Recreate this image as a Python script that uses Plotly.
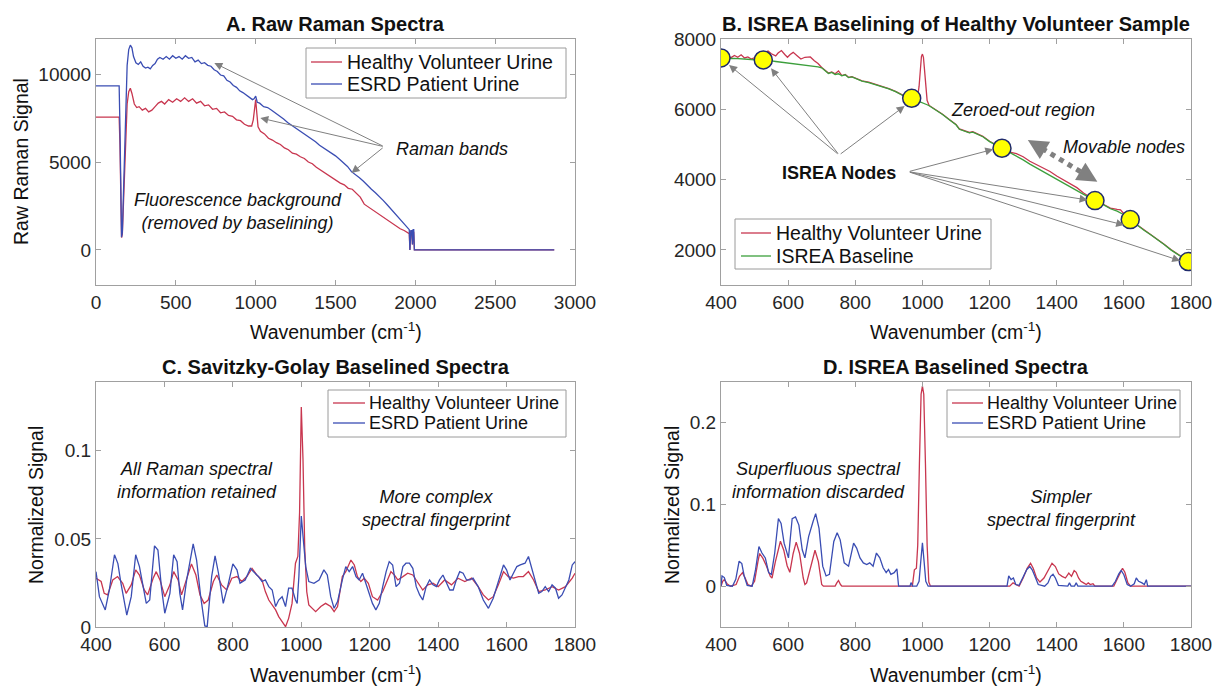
import plotly.graph_objects as go

W, H = 1223, 687
FONT = "Liberation Sans, Arial, Helvetica, sans-serif"
RED = "#C8364F"
BLUE = "#3A4DB3"
GREEN = "#3C9F3C"
GRAY = "#808080"
AXC = "#a0a0a0"
TXT = "#262626"

# ---------------- Panel A : raw spectra ----------------
A_wn_healthy = [0, 145, 150, 155, 160, 165, 175, 185, 195, 205,
                215, 225, 240, 255, 270, 290, 310, 330, 350, 370,
                390, 410, 430, 455, 480, 505, 530, 555, 580, 605,
                630, 655, 680, 705, 730, 755, 780, 805, 830, 855,
                880, 905, 930, 955, 975, 985, 993, 1000, 1007, 1015,
                1030, 1055, 1080, 1105, 1130, 1155, 1180, 1205, 1230, 1255,
                1280, 1305, 1330, 1355, 1380, 1405, 1430, 1455, 1480, 1505,
                1530, 1555, 1580, 1605, 1630, 1655, 1680, 1705, 1730, 1755,
                1780, 1805, 1830, 1855, 1880, 1905, 1930, 1955, 1962, 1966,
                1972, 1978, 1982, 1986, 1990, 1994, 2870]
A_healthy = [7550, 7550, 6000, 2500, 700, 900, 3500, 6500, 8300, 9000,
             9200, 8900, 8300, 8100, 8150, 7950, 8050, 7850, 7950, 8150,
             8350, 8450, 8300, 8550, 8400, 8600, 8450, 8650, 8450, 8600,
             8350, 8450, 8200, 8250, 8000, 8050, 7800, 7850, 7650, 7600,
             7400, 7350, 7150, 7050, 7050, 7400, 8200, 8550, 7800, 7000,
             6750, 6600, 6350, 6250, 6100, 6000, 5800, 5700, 5500, 5450,
             5300, 5200, 5000, 4900, 4700, 4550, 4400, 4300, 4100, 3950,
             3800, 3700, 3500, 3450, 3250, 3000, 2600, 2450, 2250, 2150,
             1950, 1850, 1650, 1500, 1350, 1200, 1100, 950, 920, 0,
             1050, 1050, 300, 1000, 1000, 0, 0]

A_wn_esrd = [0, 145, 150, 155, 160, 165, 175, 185, 195, 205,
             215, 225, 235, 250, 265, 280, 295, 310, 325, 340,
             355, 370, 385, 400, 420, 440, 460, 480, 500, 520,
             540, 560, 580, 600, 620, 640, 660, 680, 700, 720,
             740, 760, 780, 800, 820, 840, 860, 880, 900, 920,
             940, 960, 980, 990, 1000, 1010, 1025, 1050, 1075, 1100,
             1125, 1150, 1175, 1200, 1225, 1250, 1275, 1300, 1325, 1350,
             1375, 1400, 1425, 1450, 1475, 1500, 1525, 1550, 1575, 1600,
             1625, 1650, 1675, 1700, 1725, 1750, 1775, 1800, 1825, 1850,
             1875, 1900, 1925, 1950, 1962, 1966, 1972, 1978, 1982, 1986,
             1990, 1994, 2870]
A_esrd = [9330, 9330, 7000, 3000, 720, 1000, 4000, 8000, 10500, 11400,
          11650, 11500, 11000, 10650, 10550, 10700, 10450, 10350, 10400, 10300,
          10500, 10600, 10850, 10950, 10850, 11000, 10850, 11050, 10900, 11000,
          10850, 11050, 10900, 10950, 10700, 10800, 10600, 10650, 10500, 10450,
          10250, 10150, 9950, 9900, 9650, 9550, 9350, 9250, 9050, 8950,
          8800, 8700, 8550, 8600, 8750, 8400, 8350, 8150, 8100, 7950,
          7800, 7650, 7450, 7250, 7100, 6950, 6800, 6600, 6450, 6300,
          6150, 5950, 5800, 5650, 5500, 5350, 5150, 4950, 4750, 4450,
          4300, 4100, 3900, 3650, 3450, 3250, 3050, 2800, 2550, 2300,
          2050, 1800, 1550, 1300, 1150, 0, 1100, 1100, 300, 1150,
          1150, 0, 0]
A_xticks = [0, 500, 1000, 1500, 2000, 2500, 3000]
A_yticks = [0, 5000, 10000]

# ---------------- Panel B : ISREA baseline ----------------
B_wn = [400, 410, 420, 430, 440, 450, 460, 470, 480, 490,
        500, 510, 526, 540, 550, 563, 570, 580, 590, 598,
        606, 615, 625, 638, 650, 666, 678, 689, 700, 710,
        720, 730, 740, 750, 760, 770, 780, 790, 800, 820,
        840, 860, 880, 900, 920, 940, 955, 968, 980, 986,
        990, 994, 997, 1000, 1003, 1006, 1010, 1014, 1020, 1040,
        1060, 1080, 1100, 1110, 1120, 1130, 1140, 1150, 1160, 1180,
        1200, 1220, 1237, 1260, 1280, 1300, 1320, 1340, 1360, 1380,
        1400, 1420, 1440, 1460, 1480, 1500, 1514, 1540, 1560, 1580,
        1590, 1600, 1619, 1640, 1660, 1680, 1700, 1720, 1740, 1760,
        1780, 1792]
B_baseline = [7460, 7450, 7440, 7445, 7450, 7440, 7430, 7425, 7420, 7415,
              7410, 7405, 7400, 7385, 7375, 7360, 7352, 7340, 7328, 7318,
              7308, 7296, 7284, 7268, 7252, 7232, 7218, 7204, 7180, 7100,
              7020, 7050, 6990, 7010, 6950, 6980, 6900, 6920, 6880, 6800,
              6760, 6700, 6660, 6580, 6500, 6400, 6300, 6310, 6260, 6240,
              6225, 6210, 6200, 6190, 6180, 6170, 6150, 6130, 6100, 5980,
              5850, 5700, 5560, 5430, 5400, 5380, 5330, 5350, 5300, 5220,
              5080, 4980, 4890, 4760, 4660, 4560, 4440, 4330, 4220, 4110,
              4000, 3900, 3790, 3680, 3580, 3480, 3400, 3280, 3170, 3100,
              3060, 3000, 2860, 2700, 2560, 2430, 2300, 2150, 2000, 1870,
              1750, 1670]
B_healthy = [7460, 7470, 7520, 7470, 7530, 7480, 7550, 7460, 7490, 7430,
             7470, 7420, 7410, 7660, 7580, 7520, 7600, 7670, 7560, 7480,
             7560, 7620, 7540, 7430, 7480, 7490, 7380, 7300, 7190, 7110,
             7030, 7060, 7010, 7090, 6960, 6990, 6910, 6930, 6890, 6810,
             6770, 6710, 6670, 6590, 6510, 6410, 6310, 6320, 6290, 6380,
             6650, 7200, 7500, 7570, 7480, 7150, 6600, 6250, 6110, 5990,
             5860, 5710, 5570, 5440, 5410, 5390, 5340, 5360, 5310, 5230,
             5090, 4990, 4900, 4780, 4740, 4650, 4520, 4430, 4330, 4230,
             4100, 3990, 3860, 3770, 3620, 3490, 3410, 3290, 3190, 3150,
             3140, 3030, 2870, 2710, 2570, 2440, 2310, 2160, 2010, 1880,
             1760, 1680]
B_node_wn = [400, 526, 968, 1237, 1514, 1619, 1792]
B_node_val = [7460, 7403, 6313, 4891, 3403, 2862, 1668]
B_yticks = [2000, 4000, 6000, 8000]
WN_ticks = [400, 600, 800, 1000, 1200, 1400, 1600, 1800]

# ---------------- Panel C : Savitzky-Golay ----------------
C_wn_healthy = [400, 415, 424, 434, 449, 463, 478, 488, 503, 516,
                527, 541, 551, 567, 576, 587, 601, 616, 627, 640,
                650, 665, 679, 692, 704, 716, 728, 743, 753, 767,
                782, 797, 812, 826, 841, 856, 870, 885, 895, 905,
                915, 925, 934, 944, 954, 963, 973, 983, 990, 995,
                1000, 1005, 1010, 1016, 1022, 1042, 1057, 1071, 1086, 1096,
                1106, 1120, 1130, 1145, 1155, 1164, 1174, 1184, 1196, 1208,
                1223, 1238, 1253, 1262, 1272, 1282, 1297, 1311, 1326, 1341,
                1355, 1370, 1385, 1400, 1419, 1439, 1458, 1478, 1498, 1517,
                1532, 1547, 1561, 1576, 1591, 1605, 1620, 1635, 1649, 1664,
                1679, 1694, 1713, 1733, 1752, 1772, 1792, 1800]
C_healthy = [.0277, .0258, .0191, .0182, .0267, .0286, .0248, .0191, .0239, .0324,
             .0295, .021, .0182, .0277, .0314, .0267, .0172, .0239, .0314, .0267,
             .0182, .0267, .0358, .0295, .0182, .0134, .0153, .0258, .0295, .0239,
             .021, .0277, .0286, .0258, .0286, .0333, .0295, .0267, .0201, .0153,
             .0125, .0097, .0059, .003, .0002, .0049, .0134, .0362, .040, .065,
             .1248, .095, .045, .020, .0125, .0087, .0116, .0134, .0116, .0087,
             .0116, .0286, .0314, .038, .0352, .0286, .0258, .0277, .0248, .0172,
             .0153, .0201, .0267, .0314, .0295, .0267, .0286, .0305, .0295, .0248,
             .021, .0239, .0248, .0229, .0267, .0239, .0277, .0258, .0277, .0229,
             .0182, .0153, .0172, .0239, .0314, .0286, .0277, .0286, .0286, .0314,
             .0267, .0201, .021, .0229, .021, .0229, .0277, .0305]

C_wn_esrd = [400, 410, 427, 439, 454, 464, 473, 490, 503, 516,
             527, 537, 547, 557, 571, 581, 591, 601, 616, 627,
             637, 645, 653, 665, 684, 694, 706, 718, 725, 738,
             748, 758, 772, 787, 800, 812, 821, 836, 851, 860,
             875, 885, 895, 905, 915, 925, 934, 944, 954, 963,
             973, 983, 988, 993, 1000, 1006, 1013, 1022, 1037, 1052,
             1066, 1076, 1086, 1096, 1106, 1120, 1130, 1140, 1150, 1160,
             1169, 1179, 1189, 1199, 1208, 1218, 1228, 1238, 1248, 1257,
             1267, 1277, 1287, 1297, 1306, 1316, 1326, 1336, 1346, 1355,
             1365, 1375, 1385, 1395, 1404, 1414, 1424, 1434, 1444, 1453,
             1463, 1473, 1483, 1493, 1502, 1517, 1532, 1547, 1561, 1576,
             1591, 1600, 1610, 1620, 1630, 1640, 1654, 1664, 1674, 1684,
             1694, 1703, 1713, 1723, 1733, 1743, 1752, 1762, 1772, 1782,
             1792, 1800]
C_esrd = [.0314, .0172, .0097, .021, .041, .036, .0248, .0068, .0172, .041,
          .0343, .0229, .0134, .0153, .046, .0437, .0229, .0078, .0191, .041,
          .0371, .0191, .0097, .0267, .0472, .038, .0172, .0006, .0002, .0286,
          .0403, .0305, .0134, .0248, .0358, .0324, .0248, .0267, .0333, .0314,
          .0286, .0258, .0267, .0229, .021, .0116, .0153, .0172, .0116, .022,
          .022, .0153, .0134, .0286, .063, .0494, .0343, .0258, .0248, .0267,
          .0324, .0295, .0172, .0106, .0144, .0267, .0343, .0314, .0343, .0286,
          .0267, .0305, .0248, .0191, .0134, .0097, .0134, .0229, .0314, .0371,
          .0352, .0229, .0248, .0343, .0362, .0362, .0333, .0229, .0182, .0153,
          .0229, .0267, .0239, .0229, .0267, .0295, .0248, .021, .021, .0267,
          .0314, .0305, .0267, .0267, .0277, .0229, .0153, .0106, .0163, .0258,
          .0352, .0324, .0267, .0305, .0343, .0352, .0362, .040, .0333, .0267,
          .0191, .0201, .0229, .0201, .0239, .022, .0163, .0182, .022, .0267,
          .0352, .0371]
C_yticks = [0, 0.05, 0.1]

# ---------------- Panel D : ISREA baselined ----------------
D_wn_healthy = [400, 405, 410, 418, 428, 445, 455, 464, 472, 480,
                490, 500, 510, 515, 525, 535, 547, 552, 562, 577,
                587, 597, 605, 615, 624, 634, 645, 650, 655, 665,
                680, 690, 700, 705, 740, 745, 750, 756, 760, 970,
                976, 982, 986, 991, 996, 1000, 1004, 1009, 1014, 1019,
                1024, 1260, 1270, 1278, 1288, 1300, 1312, 1322, 1330, 1340,
                1350, 1362, 1375, 1386, 1396, 1406, 1416, 1426, 1436, 1444,
                1452, 1458, 1465, 1472, 1480, 1488, 1494, 1500, 1508, 1514,
                1570, 1580, 1590, 1596, 1603, 1612, 1620, 1800]
D_healthy = [0, .006, .008, .003, 0, .002, .012, .0165, .010, .002,
             0, .006, .030, .040, .034, .025, .012, .010, .030, .055,
             .044, .025, .017, .040, .054, .040, .010, .002, .004, .020,
             .044, .030, .002, 0, 0, .004, .007, .002, 0, 0,
             .020, .022, .050, .150, .235, .245, .235, .150, .050, .005,
             0, 0, .004, .002, 0, .010, .022, .028, .022, .010,
             .005, .010, .020, .028, .024, .015, .012, .010, .016, .012,
             .019, .017, .010, .006, .004, .002, .004, .002, .003, 0,
             0, .008, .018, .022, .017, .004, 0, 0]

D_wn_esrd = [400, 403, 410, 417, 434, 444, 454, 462, 469, 478,
             493, 503, 513, 522, 532, 542, 550, 560, 571, 579,
             588, 601, 612, 622, 632, 642, 650, 661, 674, 682,
             692, 703, 713, 723, 736, 746, 755, 767, 780, 795,
             804, 814, 824, 834, 843, 853, 863, 873, 883, 892,
             899, 906, 916, 924, 929, 963, 966, 971, 983, 990,
             995, 1000, 1005, 1010, 1017, 1252, 1257, 1264, 1271, 1278,
             1288, 1301, 1311, 1320, 1327, 1335, 1345, 1364, 1374, 1382,
             1389, 1396, 1405, 1433, 1438, 1443, 1453, 1458, 1463, 1565,
             1575, 1585, 1592, 1600, 1610, 1620, 1631, 1637, 1644, 1654,
             1661, 1667, 1671, 1800]
D_esrd = [0, .0125, .0105, .001, 0, .0084, .0306, .0277, .0125, .001,
          0, .0205, .0486, .0406, .0346, .0165, .0145, .0406, .0828, .0768,
          .0527, .0346, .0828, .0848, .0748, .0446, .0346, .0607, .0788, .0888,
          .0708, .0245, .0125, .0145, .0547, .0655, .0567, .0285, .0245, .0527,
          .0466, .0346, .0285, .0265, .0285, .0245, .0406, .0346, .0225, .0165,
          .0205, .0145, .0165, .0213, 0, 0, .0044, 0, 0, .006,
          .030, .053, .030, .006, 0, 0, .0125, .008, .010, .002,
          .001, .012, .0205, .024, .020, .012, .002, 0, .004, .012,
          .0145, .010, .001, 0, .004, 0, 0, .004, 0, 0,
          .006, .015, .0193, .014, .002, 0, .003, .010, .006, .004,
          .002, .008, 0, 0]
D_yticks = [0, 0.1, 0.2]

LEG_H = "Healthy Volunteer Urine"
LEG_E = "ESRD Patient Urine"
LEG_B = "ISREA Baseline"

fig = go.Figure()
lw = 1.3

def line(x, y, color, name, xa, ya):
    fig.add_trace(go.Scatter(x=x, y=y, mode="lines", name=name,
                             line=dict(color=color, width=lw),
                             xaxis=xa, yaxis=ya, showlegend=False,
                             hoverinfo="skip"))

line(A_wn_healthy, A_healthy, RED, LEG_H, "x", "y")
line(A_wn_esrd, A_esrd, BLUE, LEG_E, "x", "y")
line(B_wn, B_healthy, RED, LEG_H, "x2", "y2")
line(B_wn, B_baseline, GREEN, LEG_B, "x2", "y2")
fig.add_trace(go.Scatter(x=B_node_wn, y=B_node_val, mode="markers", showlegend=False,
                         marker=dict(size=18, color="#FFFF00", line=dict(color="#1F2A6B", width=1.5)),
                         xaxis="x2", yaxis="y2", hoverinfo="skip"))
line(C_wn_healthy, C_healthy, RED, LEG_H, "x3", "y3")
line(C_wn_esrd, C_esrd, BLUE, LEG_E, "x3", "y3")
line(D_wn_healthy, D_healthy, RED, LEG_H, "x4", "y4")
line(D_wn_esrd, D_esrd, BLUE, LEG_E, "x4", "y4")

def px(x):
    return x / W

def py(y):
    return 1 - y / H

L = (96, 575)
R = (721, 1191)
T = (39, 285)
B = (382, 627)

def axis(dom_px, rng, tickvals, anchor, vertical=False):
    if vertical:
        dom = [py(dom_px[1]), py(dom_px[0])]
    else:
        dom = [px(dom_px[0]), px(dom_px[1])]
    return dict(domain=dom, range=rng, anchor=anchor, tickvals=tickvals,
                ticktext=[f"{v:g}" for v in tickvals],
                showline=True, linecolor=AXC, linewidth=1, mirror="ticks",
                ticks="inside", ticklen=5, tickcolor=AXC, showgrid=False,
                zeroline=False, automargin=False,
                tickfont=dict(size=19, color=TXT, family=FONT))

layout = dict(
    template="none",
    width=W, height=H, margin=dict(l=0, r=0, t=0, b=0, pad=0, autoexpand=False),
    paper_bgcolor="white", plot_bgcolor="white", showlegend=False,
    font=dict(family=FONT, color=TXT),
    xaxis=axis(L, [0, 3000], A_xticks, "y"),
    yaxis=axis(T, [-2000, 12000], A_yticks, "x", True),
    xaxis2=axis(R, [400, 1800], WN_ticks, "y2"),
    yaxis2=axis(T, [1000, 8000], B_yticks, "x2", True),
    xaxis3=axis(L, [400, 1800], WN_ticks, "y3"),
    yaxis3=axis(B, [0, 0.139], C_yticks, "x3", True),
    xaxis4=axis(R, [400, 1800], WN_ticks, "y4"),
    yaxis4=axis(B, [-0.05, 0.25], D_yticks, "x4", True),
)
fig.update_layout(**layout)

ann = []

def ptext(text, x, y, size=19.5, bold=False, angle=0, anchor="center"):
    t = f"<b>{text}</b>" if bold else text
    ann.append(dict(text=t, x=px(x), y=py(y), xref="paper", yref="paper",
                    showarrow=False, textangle=angle, xanchor=anchor, yanchor="middle",
                    font=dict(size=size, family=FONT, color="#111")))

# manual legends (box, line samples, labels)
def legend_box(x0, x1, y0, y1, lx0, lx1, tx, rows, entries, size):
    fig.add_shape(type="rect", xref="paper", yref="paper",
                  x0=px(x0), x1=px(x1), y0=py(y1), y1=py(y0),
                  line=dict(color="#9a9a9a", width=1), fillcolor="white", layer="above")
    for (name, color), ry in zip(entries, rows):
        fig.add_shape(type="line", xref="paper", yref="paper",
                      x0=px(lx0), x1=px(lx1), y0=py(ry), y1=py(ry),
                      line=dict(color=color, width=lw), layer="above")
        ptext(name, tx, ry, size, anchor="left")

legend_box(306, 566, 48, 98, 311, 342, 345, [62, 84], [(LEG_H, RED), (LEG_E, BLUE)], 19.5)
legend_box(735, 991, 219, 269, 741, 771, 774, [233, 256], [(LEG_H, RED), (LEG_B, GREEN)], 19.5)
legend_box(328, 566, 390, 437, 333, 365, 367, [403, 423], [(LEG_H, RED), (LEG_E, BLUE)], 18)
legend_box(947, 1180, 390, 437, 952, 983, 985, [403, 423], [(LEG_H, RED), (LEG_E, BLUE)], 18)

# titles
ptext("A. Raw Raman Spectra", (L[0] + L[1]) / 2, 24, 20, True)
ptext("B. ISREA Baselining of Healthy Volunteer Sample", (R[0] + R[1]) / 2, 24, 20, True)
ptext("C. Savitzky-Golay Baselined Spectra", (L[0] + L[1]) / 2, 367, 20, True)
ptext("D. ISREA Baselined Spectra", (R[0] + R[1]) / 2, 367, 20, True)
# axis titles
wn_t = "Wavenumber (cm<sup>-1</sup>)"
ptext(wn_t, (L[0] + L[1]) / 2, 331, 19.5)
ptext(wn_t, (R[0] + R[1]) / 2, 331, 19.5)
ptext(wn_t, (L[0] + L[1]) / 2, 674, 19.5)
ptext(wn_t, (R[0] + R[1]) / 2, 674, 19.5)
ptext("Raw Raman Signal", 21, 162, 19.5, angle=-90)
ptext("Normalized Signal", 36, 505, 19.5, angle=-90)
ptext("Normalized Signal", 672, 505, 19.5, angle=-90)

def dtext(text, x, y, xr, yr, italic=True, bold=False, size=18):
    t = text
    if bold:
        t = f"<b>{t}</b>"
    if italic:
        t = f"<i>{t}</i>"
    ann.append(dict(text=t, x=x, y=y, xref=xr, yref=yr, showarrow=False,
                    xanchor="center", yanchor="middle",
                    font=dict(size=size, family=FONT, color="#111")))

def arrow(hx, hy, tx, ty, xr, yr, width=1, size=1.6, color=GRAY):
    ann.append(dict(text="", x=hx, y=hy, ax=tx, ay=ty, xref=xr, yref=yr,
                    axref=xr, ayref=yr, showarrow=True, arrowhead=2,
                    arrowsize=size, arrowwidth=width, arrowcolor=color, standoff=0))

# Panel A annotations
dtext("Raman bands", 2228, 5740, "x", "y")
dtext("Fluorescence background<br>(removed by baselining)", 888, 2171, "x", "y")
for hx, hy in [(741, 10634), (1029, 7504), (1600, 4374)]:
    arrow(hx, hy, 1805, 5871, "x", "y")

# Panel B annotations
dtext("ISREA Nodes", 752, 4179, "x2", "y2", italic=False, bold=True)
dtext("Zeroed-out region", 1299, 5980, "x2", "y2")
dtext("Movable nodes", 1601, 4935, "x2", "y2")
for hx, hy in [(424, 7260), (549, 7166), (947, 6093)]:
    arrow(hx, hy, 752, 4699, "x2", "y2")
for hx, hy in [(1211, 4861), (1492, 3419), (1601, 2707), (1768, 1691)]:
    arrow(hx, hy, 958, 4224, "x2", "y2")
fig.add_shape(type="line", x0=1331, y0=5031, x1=1504, y1=4034, xref="x2", yref="y2",
              line=dict(color=GRAY, width=5, dash="dot"))
arrow(1521, 3939, 1500, 4060, "x2", "y2", width=4, size=1.0)
arrow(1314, 5126, 1335, 5005, "x2", "y2", width=4, size=1.0)

# Panel C / D annotations
dtext("All Raman spectral<br>information retained", 695, 0.0834, "x3", "y3")
dtext("More complex<br>spectral fingerprint", 1395, 0.0675, "x3", "y3")
dtext("Superfluous spectral<br>information discarded", 689, 0.13, "x4", "y4")
dtext("Simpler<br>spectral fingerprint", 1414, 0.0957, "x4", "y4")

fig.update_layout(annotations=ann)
fig.write_html("out.html")
